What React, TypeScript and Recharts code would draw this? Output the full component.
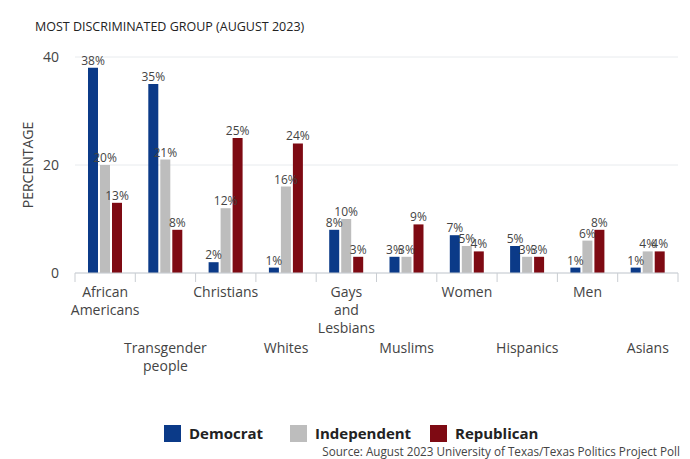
import React from 'react';
import { BarChart, Bar, XAxis, YAxis, CartesianGrid, LabelList } from 'recharts';

const groups = [
  'African Americans',
  'Transgender people',
  'Christians',
  'Whites',
  'Gays and Lesbians',
  'Muslims',
  'Women',
  'Hispanics',
  'Men',
  'Asians',
];
const tickLines: string[][] = [
  ['African', 'Americans'],
  ['Transgender', 'people'],
  ['Christians'],
  ['Whites'],
  ['Gays', 'and', 'Lesbians'],
  ['Muslims'],
  ['Women'],
  ['Hispanics'],
  ['Men'],
  ['Asians'],
];
const democrat = [38, 35, 2, 1, 8, 3, 7, 5, 1, 1];
const independent = [20, 21, 12, 16, 10, 3, 5, 3, 6, 4];
const republican = [13, 8, 25, 24, 3, 9, 4, 3, 8, 4];
const yTicks = [0, 20, 40];
const seriesNames = ['Democrat', 'Independent', 'Republican'] as const;

const data = groups.map((g, i) => ({
  group: g,
  Democrat: democrat[i],
  Independent: independent[i],
  Republican: republican[i],
}));

const W = 690;
const H = 459;
const PLOT_LEFT = 75;
const PLOT_RIGHT = 12;
const BAND = (W - PLOT_LEFT - PLOT_RIGHT) / groups.length;
const FONT = '"Open Sans", sans-serif';
const TEXT = '#444';

const colors = { Democrat: '#0b3a88', Independent: '#bdbdbd', Republican: '#7e0a13' };
const legendLeft = [164, 290, 430];

const GroupTick = (props: any) => {
  const { x, y, payload, index } = props;
  const lines = tickLines[index] || [payload.value];
  const row = index % 2 === 0 ? 0 : 1;
  const startY = y + 24 + row * 56;
  const isLast = index === groups.length - 1;
  return (
    <g>
      <line x1={x - BAND / 2} x2={x - BAND / 2} y1={y} y2={y + 9} stroke="#c9cdd2" />
      {isLast && <line x1={x + BAND / 2} x2={x + BAND / 2} y1={y} y2={y + 9} stroke="#c9cdd2" />}
      <text x={x} y={startY} textAnchor="middle" fill={TEXT} fontSize={14} fontFamily={FONT}>
        {lines.map((l, i) => (
          <tspan key={i} x={x} dy={i === 0 ? 0 : 18}>
            {l}
          </tspan>
        ))}
      </text>
    </g>
  );
};

const pct = (v: any) => `${v}%`;

export default function App() {
  return (
    <div style={{ position: 'absolute', left: 0, top: 0, width: W, height: H, background: '#fff', overflow: 'hidden', fontFamily: FONT }}>
      <div style={{ position: 'absolute', left: 35, top: 18, fontSize: 12.5, color: '#222', whiteSpace: 'nowrap' }}>
        MOST DISCRIMINATED GROUP (AUGUST 2023)
      </div>
      <div
        style={{
          position: 'absolute',
          left: 27,
          top: 165,
          transform: 'translate(-50%, -50%) rotate(-90deg)',
          fontSize: 14,
          color: TEXT,
          whiteSpace: 'nowrap',
        }}
      >
        PERCENTAGE
      </div>
      <BarChart
        width={W}
        height={H}
        data={data}
        margin={{ top: 57, right: PLOT_RIGHT, left: 30, bottom: 86 }}
        barCategoryGap="22%"
        barGap={2}
      >
        <CartesianGrid vertical={false} stroke="#e8ebee" />
        <XAxis
          dataKey="group"
          height={100}
          interval={0}
          tickSize={0}
          tickMargin={0}
          tickLine={false}
          axisLine={{ stroke: '#c9cdd2' }}
          tick={<GroupTick />}
        />
        <YAxis
          width={45}
          domain={[0, 40]}
          ticks={yTicks}
          axisLine={false}
          tickLine={false}
          tickSize={0}
          tickMargin={16}
          tick={{ fill: TEXT, fontSize: 14, fontFamily: FONT }}
        />
        {seriesNames.map((k) => (
          <Bar key={k} dataKey={k} fill={colors[k]} barSize={10} isAnimationActive={false}>
            <LabelList dataKey={k} position="top" offset={3} formatter={pct} fill={TEXT} fontSize={12} fontFamily={FONT} />
          </Bar>
        ))}
      </BarChart>
      {seriesNames.map((k, i) => (
        <div key={k} style={{ position: 'absolute', left: legendLeft[i], top: 425, display: 'flex', alignItems: 'center' }}>
          <span style={{ display: 'inline-block', width: 17, height: 17, background: colors[k], marginRight: 8 }} />
          <span style={{ fontSize: 15, fontWeight: 700, color: '#222', lineHeight: '17px' }}>{k}</span>
        </div>
      ))}
      <div style={{ position: 'absolute', right: 10, top: 443, fontSize: 11.7, color: TEXT, whiteSpace: 'nowrap' }}>
        Source: August 2023 University of Texas/Texas Politics Project Poll
      </div>
    </div>
  );
}
